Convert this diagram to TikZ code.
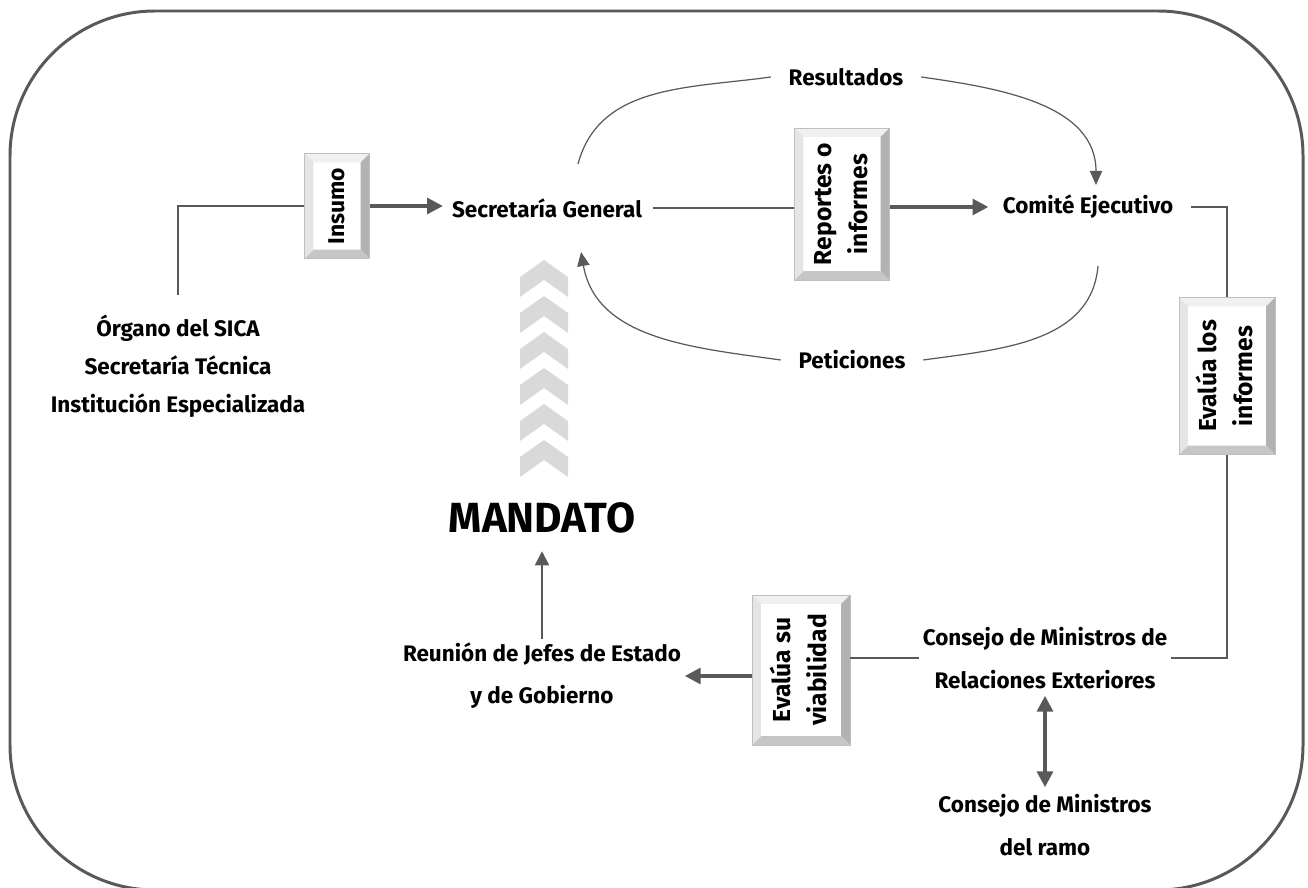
\documentclass[tikz,border=0pt]{standalone}
\usepackage{fontspec}
\setmainfont{Fira Sans}
\usetikzlibrary{arrows.meta}
\definecolor{linegray}{HTML}{595959}
\definecolor{chevgray}{HTML}{D9D9D9}
\tikzset{
  lbl/.style={align=center, font=\bfseries\fontsize{12.8}{24}\selectfont, inner sep=2pt},
  arclbl/.style={lbl, inner xsep=10pt},
  bevelbox/.style={draw=gray!50, fill=white, inner sep=0pt, align=center,
    font=\bfseries\fontsize{14}{20.5}\selectfont,
    path picture={
      \coordinate (nw) at (path picture bounding box.north west);
      \coordinate (ne) at (path picture bounding box.north east);
      \coordinate (se) at (path picture bounding box.south east);
      \coordinate (sw) at (path picture bounding box.south west);
      \fill[gray!12] (nw) -- (ne) -- ([shift={(-5pt,-5pt)}]ne) -- ([shift={(5pt,-5pt)}]nw) -- cycle;
      \fill[gray!60] (ne) -- (se) -- ([shift={(-5pt,5pt)}]se) -- ([shift={(-5pt,-5pt)}]ne) -- cycle;
      \fill[gray!45] (se) -- (sw) -- ([shift={(5pt,5pt)}]sw) -- ([shift={(-5pt,5pt)}]se) -- cycle;
      \fill[gray!20] (sw) -- (nw) -- ([shift={(5pt,-5pt)}]nw) -- ([shift={(5pt,5pt)}]sw) -- cycle;
    }},
  link/.style={draw=linegray, line width=0.7pt},
  flow/.style={draw=linegray, line width=2pt, -{Triangle[length=9pt,width=9pt]}},
}

\begin{document}
\begin{tikzpicture}[x=0.02cm, y=0.02cm]
      \useasboundingbox (0,0) rectangle (1308,-888);
      \draw[linegray, line width=1.7pt, rounded corners=2.9cm] (10,-11) rectangle (1303,-890);

      \foreach \t in {260,296,332,368,404,440}
        \fill[chevgray] (520,-\t-17) -- (544,-\t) -- (568,-\t-17) -- (568,-\t-37) -- (544,-\t-20) -- (520,-\t-37) -- cycle;

      \node[lbl, font=\bfseries\fontsize{12.8}{21.6}\selectfont] (org) at (178,-366) {Órgano del SICA\\Secretaría Técnica\\Institución Especializada};
      \node[bevelbox, minimum width=1.3cm, minimum height=2.1cm, font=\bfseries\fontsize{13}{15}\selectfont] (ins) at (337,-206) {\rotatebox{90}{Insumo}};
      \node[lbl] (sg) at (547,-208) {Secretaría General};
      \node[bevelbox, minimum width=1.9cm, minimum height=3.04cm] (rep) at (842,-204) {\rotatebox{90}{\begin{tabular}{@{}c@{}}Reportes o\\informes\end{tabular}}};
      \node[lbl] (ce) at (1088,-207) {Comité Ejecutivo};
      \node[bevelbox, minimum width=1.92cm, minimum height=3.14cm] (evi) at (1227,-376) {\rotatebox{90}{\begin{tabular}{@{}c@{}}Evalúa los\\informes\end{tabular}}};
      \node[lbl] (cmre) at (1045,-658) {Consejo de Ministros de\\Relaciones Exteriores};
      \node[bevelbox, minimum width=1.96cm, minimum height=3.0cm] (evv) at (801,-670) {\rotatebox{90}{\begin{tabular}{@{}c@{}}Evalúa su\\viabilidad\end{tabular}}};
      \node[lbl] (rje) at (542,-676) {Reunión de Jefes de Estado\\y de Gobierno};
      \node[font=\bfseries\fontsize{24}{28}\selectfont, inner sep=2pt] (man) at (542,-518) {MANDATO};
      \node[lbl] (cmr) at (1045,-825) {Consejo de Ministros\\del ramo};
      \node[arclbl] (res) at (846,-77) {Resultados};
      \node[arclbl] (pet) at (852,-360) {Peticiones};

      \coordinate (r0) at (578,-164);
      \coordinate (r1) at (1096,-185);
      \coordinate (p0) at (1098,-266);
      \coordinate (p1) at (581,-252);

      \draw[link, shorten <=9pt] (org.north) |- (ins.west);
      \draw[flow, shorten >=3pt] (ins.east) -- (ins.east -| sg.west);
      \draw[link, shorten <=4pt] (sg.east) -- (sg.east -| rep.west);
      \draw[flow, shorten >=6pt] (rep.east |- ce.west) -- (ce.west);
      \draw[link, shorten <=8pt] (ce.east) -| (evi.north);
      \draw[link] (evi.south) |- (cmre.east);
      \draw[link] (cmre.west) -- (cmre.west -| evv.east);
      \draw[flow] (evv.west |- rje.east) -- (rje.east);
      \draw[link, line width=1pt, -{Triangle[length=8pt,width=8pt]}, shorten >=8pt] (rje.north) -- (man.south);
      \draw[flow, {Triangle[length=9pt,width=9pt]}-{Triangle[length=9pt,width=9pt]}, shorten <=2pt, shorten >=2pt] (cmre.south) -- (cmr.north);

      \draw[link] (r0) to[out=75, in=188] (res.west);
      \draw[link, -{Triangle[length=8pt,width=7pt]}] (res.east) to[out=-8, in=90] (r1);
      \draw[link] (p0) to[out=-95, in=8] (pet.east);
      \draw[link, -{Triangle[length=8pt,width=7pt]}] (pet.west) to[out=172, in=-80] (p1);
    \end{tikzpicture}
\end{document}
